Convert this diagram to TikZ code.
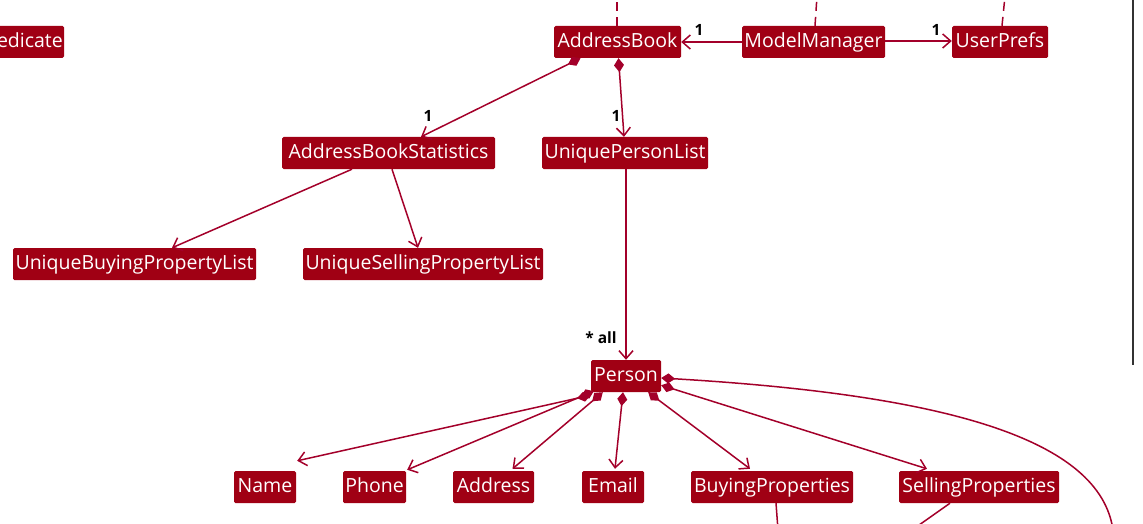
\documentclass[tikz,border=0pt]{standalone}
\usepackage{fontspec}
\setmainfont{Open Sans}
\usetikzlibrary{arrows.meta}
\definecolor{boxred}{HTML}{A00014}
\definecolor{linered}{HTML}{A3002A}
\definecolor{frame}{HTML}{333333}
\tikzset{
  cls/.style={draw=none, fill=boxred, text=white, rounded corners=1.5pt,
    minimum height=32pt, inner sep=0pt, text height=15pt, text depth=3.5pt,
    font=\fontsize{19.5}{22}\selectfont},
  assoc/.style={draw=linered, line width=1.5pt, -{Straight Barb[length=8pt,width=14pt,line width=1.5pt]}},
  compos/.style={draw=linered, line width=1.5pt, {Diamond[length=14pt,width=10pt]}-{Straight Barb[length=8pt,width=14pt,line width=1.5pt]}},
  composplain/.style={draw=linered, line width=1.5pt, {Diamond[length=14pt,width=10pt]}-},
  mult/.style={font=\bfseries\fontsize{15.5}{17}\selectfont, text=black, inner sep=0pt},
  dashlink/.style={draw=linered, line width=1.5pt, dash pattern=on 9pt off 6pt},
}
\begin{document}
\begin{tikzpicture}[x=1pt,y=-1pt]
\useasboundingbox (0,0) rectangle (1143,524);
\clip (0,0) rectangle (1143,524);
% frame line
\coordinate (ft) at (1133,-2);
\coordinate (fb) at (1133,365);
\draw[frame, line width=1.5pt] (ft) -- (fb);
% nodes
\fill[boxred, rounded corners=1.5pt] (-20,26) rectangle (64,58);
\node[cls, anchor=east, inner xsep=0pt, fill=none] (pred) at (63,42) {edicate};
\node[cls, minimum width=127pt] (ab) at (617.5,42) {AddressBook};
\node[cls, minimum width=143pt] (mm) at (813.5,42) {ModelManager};
\node[cls, minimum width=96pt] (up) at (1000,42) {UserPrefs};
\node[cls, minimum width=213pt] (abs) at (388.5,153) {AddressBookStatistics};
\node[cls, minimum width=166pt] (upl) at (625,153) {UniquePersonList};
\node[cls, minimum width=243pt] (ubpl) at (134.5,264) {UniqueBuyingPropertyList};
\node[cls, minimum width=240pt] (uspl) at (423,264) {UniqueSellingPropertyList};
\node[cls, minimum width=70pt] (person) at (626,376) {Person};
\node[cls, minimum width=62pt] (name) at (265,487) {Name};
\node[cls, minimum width=63pt] (phone) at (374.5,487) {Phone};
\node[cls, minimum width=81pt] (addr) at (493.5,487) {Address};
\node[cls, minimum width=62pt] (email) at (613,487) {Email};
\node[cls, minimum width=162pt] (bp) at (772,487) {BuyingProperties};
\node[cls, minimum width=160pt] (sp) at (979,487) {SellingProperties};
% dashed links from above
\coordinate (abt) at (617,-4);
\coordinate (mmt) at (817,-4);
\coordinate (upt) at (1005,-4);
\draw[dashlink] ([xshift=-0.5pt]ab.north) -- (abt);
\draw[dashlink] ([xshift=1.5pt]mm.north) -- (mmt);
\draw[dashlink] ([xshift=2pt]up.north) -- (upt);
% associations
\draw[assoc] (mm.west) -- (ab.east);
\node[mult] (l1) at (699,30) {1};
\draw[assoc] ([yshift=1pt]mm.east) -- ([yshift=1pt]up.west);
\node[mult] (l2) at (936,30) {1};
\draw[compos] ([xshift=-37pt]ab.south) -- ([xshift=32.5pt]abs.north);
\node[mult] (l3) at (428,116) {1};
\draw[compos] ([xshift=1pt]ab.south) -- ([xshift=-1pt]upl.north);
\node[mult] (l4) at (616,116) {1};
\draw[assoc] ([xshift=-36.5pt]abs.south) -- ([xshift=37.5pt]ubpl.north);
\draw[assoc] ([xshift=3.5pt]abs.south) -- ([xshift=-5pt]uspl.north);
\draw[assoc] ([xshift=1pt]upl.south) -- (person.north);
\node[mult] (l5) at (601,338) {* all};
% person compositions
\draw[compos] ([yshift=-3pt]person.south west) -- ([xshift=1pt,yshift=10pt]name.north east);
\draw[compos] ([xshift=3pt,yshift=1pt]person.south west) -- ([xshift=1pt,yshift=1pt]phone.north east);
\draw[compos] ([xshift=12pt]person.south west) -- ([xshift=19pt,yshift=2pt]addr.north);
\draw[compos] ([xshift=-3pt]person.south) -- ([xshift=2pt,yshift=2pt]email.north);
\draw[compos] ([xshift=-13pt]person.south east) -- ([xshift=-22pt,yshift=2pt]bp.north);
\draw[compos] ([yshift=7pt]person.south east) -- ([xshift=-52pt,yshift=2pt]sp.north);
\coordinate (pc) at (1113,530);
\draw[composplain] ([yshift=-2pt]person.east) .. controls (950,395) and (1100,440) .. (pc);
% lines leaving below
\coordinate (bpb) at (778,530);
\coordinate (spb) at (912,530);
\draw[draw=linered, line width=1.5pt] ([xshift=4pt]bp.south) -- (bpb);
\draw[draw=linered, line width=1.5pt] ([xshift=-29pt]sp.south) -- (spb);
\end{tikzpicture}
\end{document}
